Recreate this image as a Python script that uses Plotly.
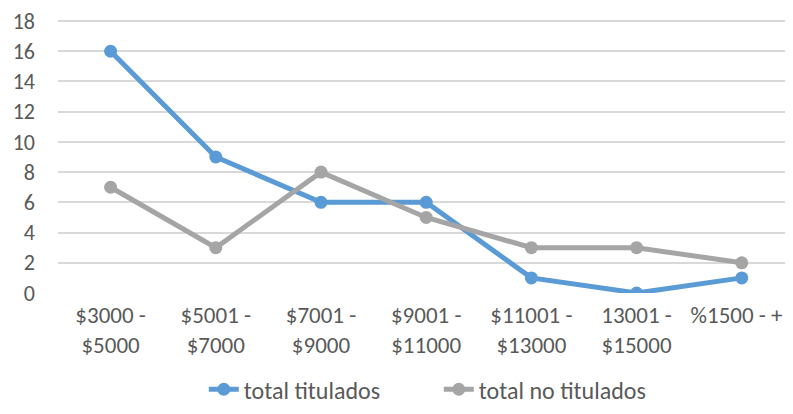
import plotly.graph_objects as go

categories = ["$3000 -<br>$5000", "$5001 -<br>$7000", "$7001 -<br>$9000", "$9001 -<br>$11000",
              "$11001 -<br>$13000", "13001 -<br>$15000", "%1500 - +\u00a0\u00a0"]
titulados = [16, 9, 6, 6, 1, 0, 1]
no_titulados = [7, 3, 8, 5, 3, 3, 2]
y_ticks = [0, 2, 4, 6, 8, 10, 12, 14, 16, 18]

FONT = "Carlito, Liberation Sans Narrow, Liberation Sans, sans-serif"

fig = go.Figure()
fig.add_trace(go.Scatter(x=list(range(len(categories))), y=titulados, name="total titulados",
                         mode="lines+markers", line=dict(color="#5B9BD5", width=5),
                         marker=dict(size=13, color="#5B9BD5")))
fig.add_trace(go.Scatter(x=list(range(len(categories))), y=no_titulados, name="total no titulados",
                         mode="lines+markers", line=dict(color="#A5A5A5", width=5),
                         marker=dict(size=13, color="#A5A5A5")))

fig.update_layout(
    width=785, height=406,
    margin=dict(l=50, r=0, t=8, b=121),
    paper_bgcolor="white", plot_bgcolor="white",
    font=dict(family=FONT, size=22, color="#595959"),
    showlegend=True,
    legend=dict(orientation="h", xref="paper", x=0.2, xanchor="left",
                yref="container", y=0.06, yanchor="middle",
                font=dict(size=24, color="#595959"), itemwidth=30,
                entrywidth=190, entrywidthmode="pixels",
                bgcolor="rgba(0,0,0,0)"),
    xaxis=dict(tickmode="array", tickvals=list(range(len(categories))), ticktext=categories,
               range=[-0.5, 6.43], showgrid=False, zeroline=False, showline=False,
               ticks="", ticklabelstandoff=6, tickfont=dict(size=23),
               ticklabeloverflow="allow", fixedrange=True),
    yaxis=dict(range=[0, 18.2], tickvals=y_ticks, showgrid=True, gridcolor="#D9D9D9", gridwidth=1.5,
               zeroline=False, showline=False, ticks="", ticklabelstandoff=22,
               ticklabeloverflow="allow", fixedrange=True),
)

fig.write_html("out.html")
